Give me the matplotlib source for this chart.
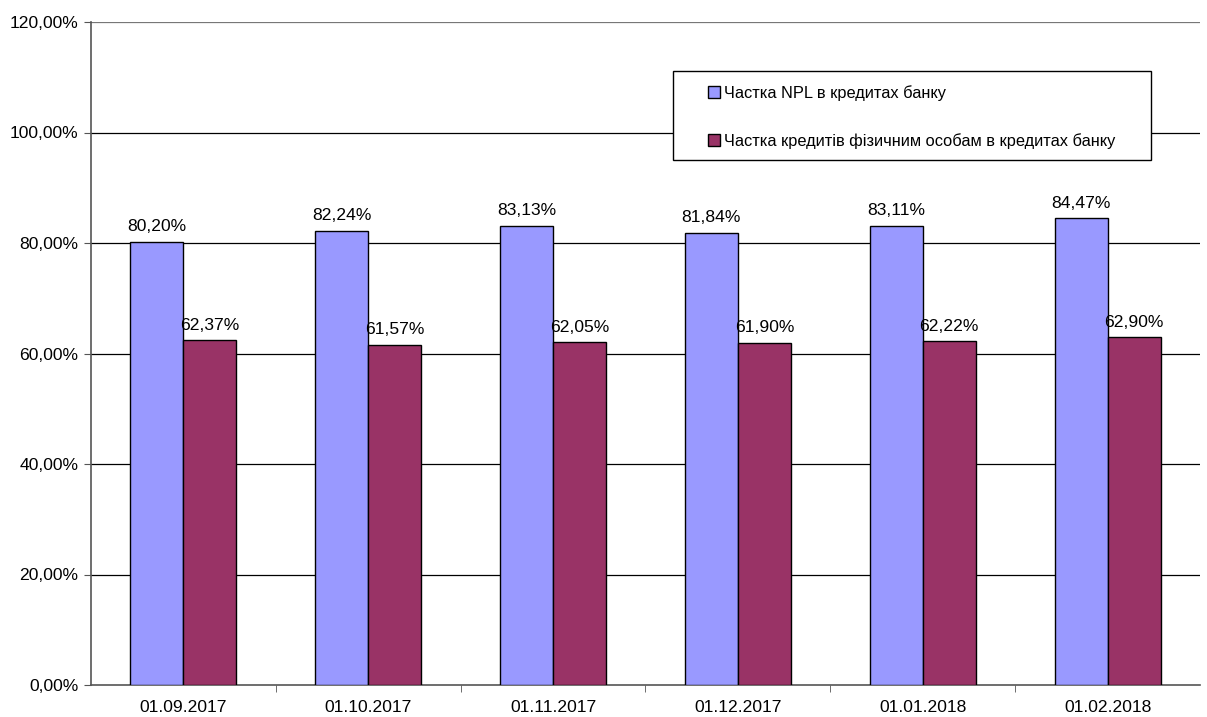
import matplotlib
matplotlib.use("Agg")
import matplotlib.pyplot as plt
import numpy as np
from matplotlib.patches import Patch, Rectangle

plt.rcParams['font.family'] = ['Liberation Sans', 'DejaVu Sans']

dates = ['01.09.2017', '01.10.2017', '01.11.2017', '01.12.2017', '01.01.2018', '01.02.2018']
npl_share = [80.20, 82.24, 83.13, 81.84, 83.11, 84.47]
retail_share = [62.37, 61.57, 62.05, 61.90, 62.22, 62.90]
labels = ['Частка NPL в кредитах банку',
          'Частка кредитів фізичним особам в кредитах банку']
colors = ['#9999FF', '#993366']


def pct(v):
    return f"{v:.2f}%".replace('.', ',')


fig = plt.figure(figsize=(12.07, 7.17), dpi=100)
ax = fig.add_axes([91 / 1207, 32 / 717, 1109 / 1207, 663 / 717])

x = np.arange(len(dates))
w = 0.287
b1 = ax.bar(x - w / 2, npl_share, w, color=colors[0], edgecolor='black', linewidth=1, zorder=3)
b2 = ax.bar(x + w / 2, retail_share, w, color=colors[1], edgecolor='black', linewidth=1, zorder=3)

for bars, vals in ((b1, npl_share), (b2, retail_share)):
    for r, v in zip(bars, vals):
        ax.annotate(pct(v), (r.get_x() + r.get_width() / 2, v), xytext=(0, 5.5),
                    textcoords='offset points', ha='center', va='bottom', fontsize=12.6)

ax.set_xlim(-0.5, len(dates) - 0.5)
ax.set_ylim(0, 120)
yt = np.arange(0, 121, 20)
ax.set_yticks(yt)
ax.set_yticklabels([pct(v) for v in yt], fontsize=12.6)
ax.set_xticks(x)
ax.set_xticklabels(dates, fontsize=12.6)
ax.set_xticks(np.arange(0.5, len(dates) - 0.5, 1), minor=True)
ax.tick_params(axis='x', which='major', length=0, pad=11)
ax.tick_params(axis='x', which='minor', length=5, color='#555555')
ax.tick_params(axis='y', length=5, color='#555555', pad=4)

for v in yt[1:]:
    ax.axhline(v, color='black' if v < 120 else '#777777', linewidth=0.9, zorder=1)

for s in ('top', 'right'):
    ax.spines[s].set_visible(False)
ax.spines['left'].set_color('#555555')
ax.spines['bottom'].set_color('#555555')
ax.spines['left'].set_linewidth(1.2)
ax.spines['bottom'].set_linewidth(1.2)

# legend frame drawn separately, entries placed inside it
ax.add_patch(Rectangle((0.5248, 0.7919), 0.431, 0.1342, transform=ax.transAxes,
                       facecolor='white', edgecolor='black', linewidth=1, zorder=5))
handles = [Patch(facecolor=c, edgecolor='black') for c in colors]
leg = ax.legend(handles, labels, loc='center left', bbox_to_anchor=(0.5564, 0.857),
                fontsize=11.8, frameon=False,
                handlelength=0.75, handleheight=0.75, handletextpad=0.25,
                labelspacing=1.95, borderpad=0, borderaxespad=0)
leg.set_zorder(6)

fig.savefig('out.png', dpi=100, facecolor='white')
